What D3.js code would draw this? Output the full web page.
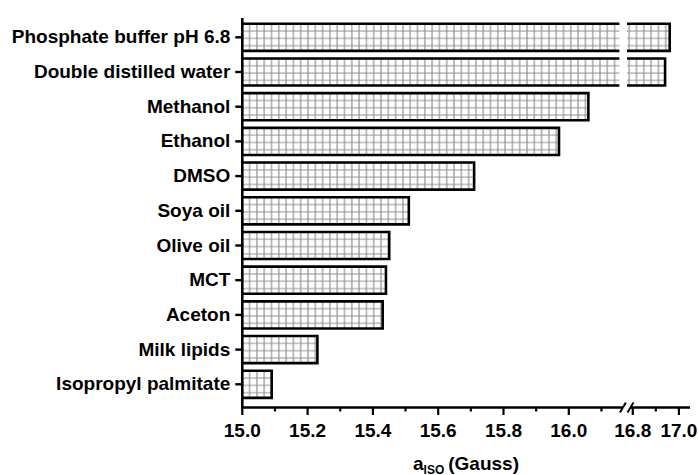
<!DOCTYPE html>
<html>
<head>
<meta charset="utf-8">
<script src="https://cdn.jsdelivr.net/npm/d3@7"></script>
<style>
  html, body { margin: 0; padding: 0; background: #fff; }
  svg { display: block; }
  text { font-family: "Liberation Sans", Arial, sans-serif; font-weight: bold; fill: #000; }
</style>
</head>
<body>
<svg id="chart" width="699" height="475"></svg>
<script>
const categories = ["Phosphate buffer pH 6.8", "Double distilled water", "Methanol", "Ethanol", "DMSO",
  "Soya oil", "Olive oil", "MCT", "Aceton", "Milk lipids", "Isopropyl palmitate"];
const values = [16.96, 16.94, 16.06, 15.97, 15.71, 15.51, 15.45, 15.44, 15.43, 15.23, 15.09];
const majorTicks = [15.0, 15.2, 15.4, 15.6, 15.8, 16.0, 16.8, 17.0];
const minorTicks = [15.1, 15.3, 15.5, 15.7, 15.9, 16.1, 16.9];
const tickLabels = ["15.0", "15.2", "15.4", "15.6", "15.8", "16.0", "16.8", "17.0"];
const breakLo = 16.155, breakHi = 16.775;
const xMin = 15.0, xMax = 17.048;

const svg = d3.select("#chart");
const axisY = 407.5, axisX = 242.3;

const x = d3.scaleLinear()
  .domain([xMin, breakLo, breakHi, xMax])
  .range([axisX, 619.4, 627, 690]);

const y = d3.scaleBand()
  .domain(categories)
  .range([19.95, 401.65])
  .paddingInner(0.22)
  .paddingOuter(0.11);

const defs = svg.append("defs");
const cell = 7.3;
const bars = svg.append("g");

categories.forEach((c, i) => {
  const v = values[i];
  const top = y(c), h = y.bandwidth(), bot = top + h;
  const pid = "grid" + i;
  const pat = defs.append("pattern")
    .attr("id", pid)
    .attr("patternUnits", "userSpaceOnUse")
    .attr("x", axisX + cell / 2).attr("y", top + cell / 2)
    .attr("width", cell).attr("height", cell);
  pat.append("rect").attr("width", cell).attr("height", cell).attr("fill", "#fff");
  pat.append("path")
    .attr("d", `M${cell/2},0V${cell}M0,${cell/2}H${cell}`)
    .attr("stroke", "#8a8a8a").attr("stroke-width", 1.1).attr("fill", "none");

  const pieces = [];
  if (v > breakLo) {
    pieces.push({ x0: x(xMin), x1: x(breakLo), end: false });
    pieces.push({ x0: x(breakHi), x1: x(v), end: true });
  } else {
    pieces.push({ x0: x(xMin), x1: x(v), end: true });
  }
  pieces.forEach(p => {
    bars.append("rect")
      .attr("x", p.x0).attr("y", top)
      .attr("width", p.x1 - p.x0).attr("height", h)
      .attr("fill", `url(#${pid})`);
    const d = p.end
      ? `M${p.x0},${top}H${p.x1}V${bot}H${p.x0}`
      : `M${p.x0},${top}H${p.x1}M${p.x0},${bot}H${p.x1}`;
    bars.append("path").attr("d", d)
      .attr("fill", "none").attr("stroke", "#000")
      .attr("stroke-width", 2.6).attr("stroke-linejoin", "miter");
  });
});

// Y axis
const yAxis = d3.axisLeft(y).tickSize(7).tickPadding(5);
const gy = svg.append("g").attr("transform", `translate(${axisX},0)`).call(yAxis);
gy.select(".domain").remove();
gy.selectAll(".tick line").attr("stroke", "#000").attr("stroke-width", 2.4);
gy.selectAll(".tick text").attr("font-size", "19px")
  .style("font-family", "'Liberation Sans', Arial, sans-serif").style("font-weight", "bold");

svg.append("line")
  .attr("x1", axisX).attr("x2", axisX)
  .attr("y1", 18).attr("y2", axisY + 1.2)
  .attr("stroke", "#000").attr("stroke-width", 2.6);

// X axis with break
const bx1 = x(breakLo) + 3.5, bx2 = x(breakHi) + 3.5;
const gx = svg.append("g");
gx.append("line").attr("x1", axisX - 1.3).attr("x2", bx1).attr("y1", axisY).attr("y2", axisY)
  .attr("stroke", "#000").attr("stroke-width", 2.6);
gx.append("line").attr("x1", bx2).attr("x2", x(xMax)).attr("y1", axisY).attr("y2", axisY)
  .attr("stroke", "#000").attr("stroke-width", 2.6);
[bx1, bx2].forEach(bx => {
  gx.append("line")
    .attr("x1", bx - 3).attr("y1", axisY + 5)
    .attr("x2", bx + 3).attr("y2", axisY - 5)
    .attr("stroke", "#000").attr("stroke-width", 2);
});
majorTicks.forEach((t, i) => {
  gx.append("line").attr("x1", x(t)).attr("x2", x(t))
    .attr("y1", axisY).attr("y2", axisY + 7.5)
    .attr("stroke", "#000").attr("stroke-width", 2.2);
  gx.append("text").attr("x", x(t)).attr("y", 436.7)
    .attr("text-anchor", "middle").attr("font-size", "19px")
    .text(tickLabels[i]);
});
minorTicks.forEach(t => {
  gx.append("line").attr("x1", x(t)).attr("x2", x(t))
    .attr("y1", axisY).attr("y2", axisY + 4)
    .attr("stroke", "#000").attr("stroke-width", 2.2);
});

// Axis title
const title = svg.append("text")
  .attr("x", 466).attr("y", 470)
  .attr("text-anchor", "middle").attr("font-size", "19px");
title.append("tspan").text("a");
title.append("tspan").attr("font-size", "12px").attr("dy", 3.5).text("ISO");
title.append("tspan").attr("dy", -3.5).attr("dx", 4).text("(Gauss)");
</script>
</body>
</html>
